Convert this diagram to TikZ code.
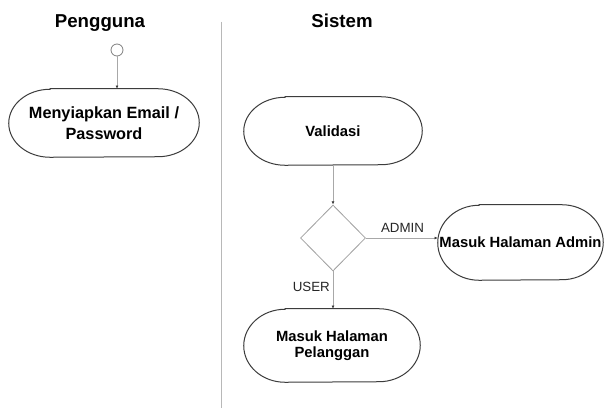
\documentclass[tikz,border=0pt]{standalone}
\usepackage{fontspec}
\setmainfont{Liberation Sans}
\usetikzlibrary{arrows.meta,shapes.geometric}
\definecolor{outl}{HTML}{3C3C3C}
\definecolor{conn}{HTML}{A8A8A8}
\definecolor{dmd}{HTML}{A0A0A0}
\definecolor{sepc}{HTML}{B8B8B8}
\newcommand\actframe[3]{%
  \draw[actline] ([xshift=#2]#1.north west) -- ([xshift=-#2]#1.north east)
    arc[start angle=90,end angle=-90,x radius=#2,y radius=#3]
    -- ([xshift=#2]#1.south west)
    arc[start angle=270,end angle=90,x radius=#2,y radius=#3] -- cycle;}
\tikzset{
  actline/.style={draw=outl,line width=0.75pt},
  act/.style={rectangle,inner sep=0pt,align=center,font=\bfseries\fontsize{11.1}{11.7}\selectfont},
  conline/.style={draw=conn,line width=0.75pt,-{Latex[length=2.4pt,width=2.2pt,color=outl]}},
  lbl/.style={inner sep=0pt,font=\fontsize{10}{12}\selectfont,text=black!85},
  ttl/.style={inner sep=0pt,anchor=base,font=\bfseries\fontsize{14}{16}\selectfont}
}
\begin{document}
\begin{tikzpicture}[x=0.75pt,y=-0.75pt]
\useasboundingbox[fill=white] (0,0) rectangle (604,410);
% titles
\node[ttl] (t1) at (100,28) {Pengguna};
\node[ttl] (t2) at (342,28) {Sistem};
% separator
\coordinate (sepTop) at (221,22);
\coordinate (sepBot) at (221,408);
\draw[draw=sepc,line width=0.75pt] (sepTop) -- (sepBot);
% initial state
\node[circle,draw=gray,line width=0.6pt,fill=white,minimum size=9pt,inner sep=0pt] (init) at (117,50) {};
% activities
\node[act,minimum width=142.5pt,minimum height=51pt,font=\bfseries\fontsize{12.2}{15.6}\selectfont] (act1) at (104,123) {Menyiapkan Email /\\Password};
\actframe{act1}{31pt}{25.5pt}
\node[act,minimum width=133.5pt,minimum height=51pt] (val) at (333,131) {Validasi};
\actframe{val}{31pt}{25.5pt}
\node[diamond,draw=dmd,line width=0.6pt,minimum width=48.75pt,minimum height=49.5pt,inner sep=0pt] (dec) at (333,238) {};
\node[act,minimum width=123.75pt,minimum height=56.25pt] (adm) at (520.5,242.5) {Masuk Halaman Admin};
\actframe{adm}{31pt}{28.125pt}
\node[act,minimum width=132pt,minimum height=54.75pt] (pel) at (332,345.5) {Masuk Halaman\\Pelanggan};
\actframe{pel}{31pt}{27.375pt}
% connectors
\draw[conline] (init.south) -- (init |- act1.north);
\draw[conline] (val.south -| dec.north) -- (dec.north);
\draw[conline] (dec.east) -- node[lbl,pos=0.51,above=3.7pt] {ADMIN} (dec.east -| adm.west);
\draw[conline] (dec.south) -- node[lbl,pos=0.42,left=2pt] {USER} (dec.south |- pel.north);
\end{tikzpicture}
\end{document}
